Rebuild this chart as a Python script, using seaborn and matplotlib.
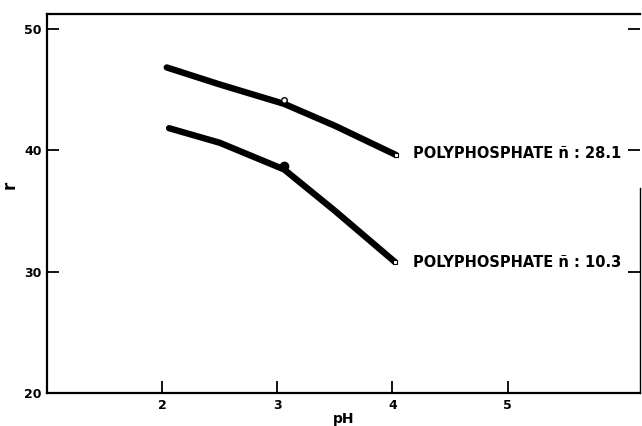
import matplotlib
matplotlib.use("Agg")
import matplotlib.pyplot as plt
import seaborn as sns
import pandas as pd

# Data
ph_upper = [2.04, 2.5, 3.06, 3.5, 4.03]
r_upper = [46.8, 45.4, 43.8, 42.0, 39.6]
ph_lower = [2.06, 2.5, 3.06, 3.5, 4.02]
r_lower = [41.8, 40.6, 38.4, 35.0, 30.8]
marker_ph = [3.06, 3.06]
marker_r = [44.1, 38.7]
end_ph = [4.03, 4.02]
end_r = [39.6, 30.8]
labels = ["POLYPHOSPHATE ñ : 28.1", "POLYPHOSPHATE ñ : 10.3"]
label_r = [39.75, 30.75]
x_ticks = [2, 3, 4, 5]
y_ticks = [20, 30, 40, 50]

sns.set_style("white")
plt.rcParams['font.family'] = ['DejaVu Sans']
plt.rcParams['text.color'] = 'black'
plt.rcParams['axes.labelcolor'] = 'black'
plt.rcParams['xtick.color'] = 'black'
plt.rcParams['ytick.color'] = 'black'

fig = plt.figure(figsize=(6.42, 4.26), dpi=100)
ax = fig.add_axes([47/642, 33/426, 593/642, 379/426])

df_u = pd.DataFrame({"pH": ph_upper, "r": r_upper})
df_l = pd.DataFrame({"pH": ph_lower, "r": r_lower})
sns.lineplot(data=df_u, x="pH", y="r", ax=ax, color="black", linewidth=4.6,
             solid_capstyle="round", solid_joinstyle="round", sort=False)
sns.lineplot(data=df_l, x="pH", y="r", ax=ax, color="black", linewidth=4.6,
             solid_capstyle="round", solid_joinstyle="round", sort=False)

ax.plot([marker_ph[0]], [marker_r[0]], marker="o", ms=4, mfc="white", mec="black", mew=1, zorder=5)
ax.plot([marker_ph[1]], [marker_r[1]], marker="o", ms=6, color="black", zorder=5)
ax.plot(end_ph, end_r, linestyle="none", marker="s", ms=3, mfc="white", mec="black", mew=0.8, zorder=5)

for lab, yr in zip(labels, label_r):
    ax.text(4.18, yr, lab, fontsize=10.5, fontweight="bold", va="center", ha="left", color="black")

ax.set_xlim(1.0, 6.15)
ax.set_ylim(20, 51.2)
ax.set_xticks(x_ticks)
ax.set_yticks(y_ticks)
ax.set_xticklabels([str(t) for t in x_ticks], fontweight="bold", fontsize=9, color="black")
ax.set_yticklabels([str(t) for t in y_ticks], fontweight="bold", fontsize=9, color="black")
ax.tick_params(axis="both", direction="in", length=8.5, width=1.3, color="black", pad=4)
ax.tick_params(axis="y", right=True, left=True)
ax.tick_params(axis="x", bottom=True, top=False)

for s in ["left", "bottom", "top", "right"]:
    ax.spines[s].set_visible(True)
    ax.spines[s].set_color("black")
    ax.spines[s].set_linewidth(1.6)
ax.spines["right"].set_bounds(20, 36.9)
ax.spines["right"].set_linewidth(1.0)

ax.set_xlabel("pH", fontweight="bold", fontsize=10, color="black")
ax.xaxis.set_label_coords(0.5, -0.05)
ax.set_ylabel("r", fontweight="bold", fontsize=12, color="black")
ax.yaxis.set_label_coords(-0.048, 0.55)

fig.savefig("out.png", dpi=100)
